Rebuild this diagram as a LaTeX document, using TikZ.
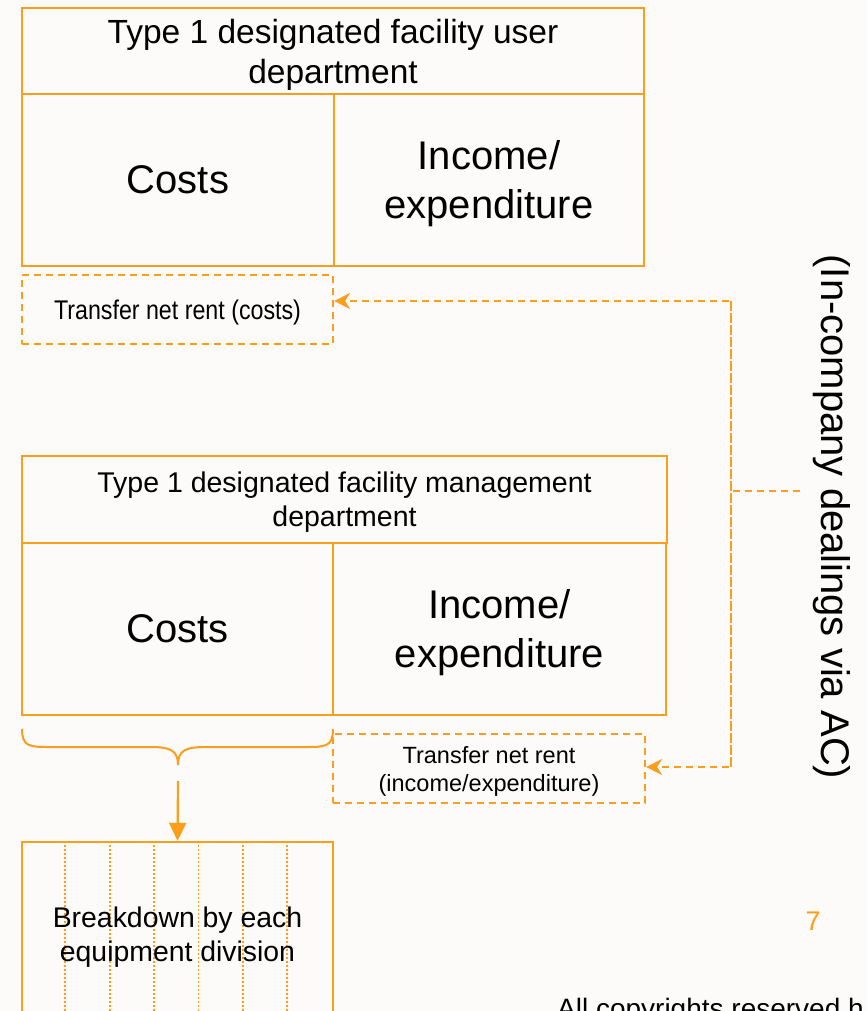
\documentclass[tikz,border=0pt]{standalone}
\usepackage{fontspec}
\setmainfont{Liberation Sans}
\usetikzlibrary{arrows.meta,calc}
\definecolor{org}{RGB}{250,158,28}
\definecolor{bg}{RGB}{252,251,250}
\begin{document}
\begin{tikzpicture}[x=1pt,y=-1pt,
  box/.style={draw=org,line width=2.4pt,rectangle,inner sep=0pt,align=center,text=black,text depth=0pt},
  dbox/.style={draw=org,line width=2.1pt,dash pattern=on 7pt off 5pt,rectangle,inner sep=0pt,align=center,text=black,text depth=0pt},
  dline/.style={draw=org,line width=2.1pt,dash pattern=on 7pt off 5pt},
  darrow/.style={dline,-{Stealth[length=16pt,width=16pt,inset=5pt]}},
  big/.style={font=\fontsize{40}{49}\selectfont},
  ]
\useasboundingbox (0,0) rectangle (867,1011);
\clip (0,0) rectangle (867,1011);
\fill[bg] (0,0) rectangle (867,1011);

% top department
\node[box,minimum width=622pt,minimum height=86pt,font=\fontsize{33.5}{40}\selectfont] (h1) at (333,51) {Type 1 designated facility user\\department};
\node[box,big,minimum width=312pt,minimum height=172pt] (c1) at (178,180) {Costs};
\node[box,big,minimum width=310pt,minimum height=172pt] (i1) at (489,180) {Income/\\expenditure};
\node[dbox,minimum width=311pt,minimum height=69pt,font=\fontsize{27}{32}\selectfont] (t1) at (177.5,309.5) {\scalebox{0.86}[1]{Transfer net rent (costs)}};

% management department
\node[box,minimum width=645pt,minimum height=87pt,font=\fontsize{28.5}{34}\selectfont] (h2) at (344.5,499.5) {Type 1 designated facility management\\department};
\node[box,big,minimum width=311pt,minimum height=172pt] (c2) at (177.5,629) {Costs};
\node[box,big,minimum width=333pt,minimum height=172pt] (i2) at (499.5,629) {Income/\\expenditure};
\node[dbox,minimum width=312pt,minimum height=69pt,font=\fontsize{23.5}{28}\selectfont] (t2) at (489,768.5) {Transfer net rent\\(income/expenditure)};

% breakdown box
\node[box,minimum width=311pt,minimum height=188pt] (bd) at (177.5,936) {};
\foreach \k in {1,...,6} {
  \draw[org,line width=1.8pt,dash pattern=on 2pt off 2pt] ($(bd.north west)+(44.43*\k,0)$) -- ($(bd.south west)+(44.43*\k,0)$);
}
\node[font=\fontsize{28.4}{34}\selectfont,align=center,text depth=0pt] (bdt) at (177.5,934) {Breakdown by each\\equipment division};

% brace and arrow
\coordinate (br1) at (22,729);
\coordinate (br2) at (333,729);
\coordinate (brtip) at (178,765);
\draw[org,line width=2pt] (br1) .. controls (22,747) and (30,747) .. (50,747) -- (150,747)
  .. controls (170,747) and (178,750) .. (brtip)
  .. controls (178,750) and (186,747) .. (206,747) -- (305,747)
  .. controls (325,747) and (333,747) .. (br2);
\coordinate (ar1) at (178,781);
\draw[org,line width=2.2pt,-{Triangle[length=18pt,width=17pt]}] (ar1) -- (bd.north);

% in-company dealings connectors
\coordinate (bus) at (731,491);
\coordinate (busend) at (800,491);
\coordinate (a1) at (731,301);
\coordinate (a2) at (731,767);
\draw[dline] (busend) -- (bus);
\draw[darrow] (a2) -- (a1) -- (t1.east |- a1);
\draw[darrow] (a1) -- (a2) -- (t2.east |- a2);

\node[rotate=-90,font=\fontsize{40}{48}\selectfont] (lab) at (832,517) {(In-company dealings via AC)};

\node[text=org,font=\fontsize{27}{32}\selectfont] (pg) at (813,921) {7};
\node[anchor=base west,inner sep=0pt,font=\fontsize{28}{32}\selectfont] (copy) at (557,1018) {All copyrights reserved h};
\end{tikzpicture}
\end{document}
